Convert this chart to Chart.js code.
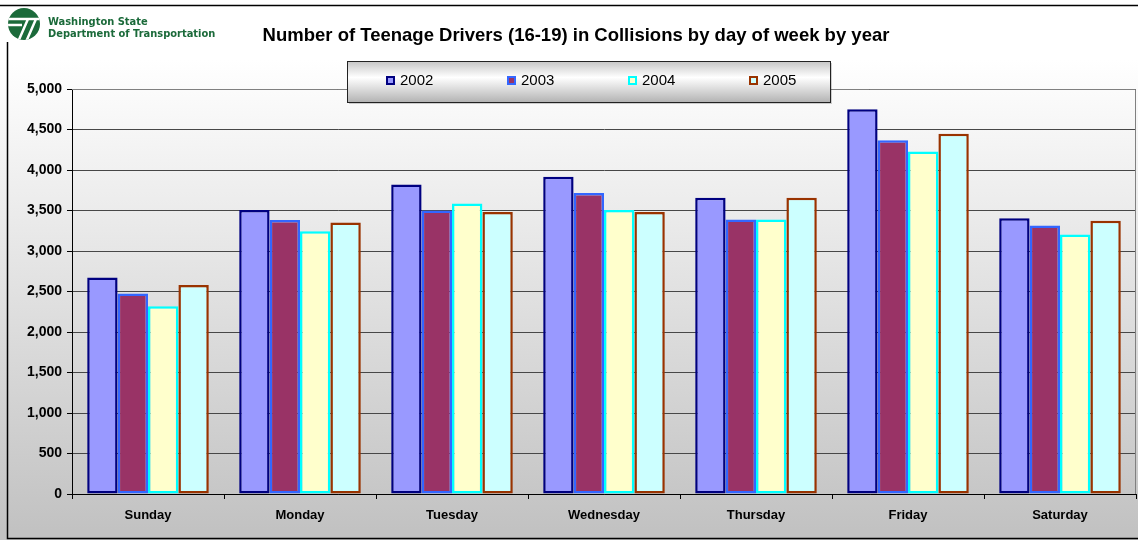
<!DOCTYPE html>
<html><head><meta charset="utf-8">
<script src="https://cdn.jsdelivr.net/npm/chart.js@4/dist/chart.umd.min.js"></script>
<style>html,body{margin:0;padding:0;background:#fff}#wrap{width:1138px;height:540px;position:relative;overflow:hidden}</style>
</head><body><div id="wrap"><canvas id="c" width="1138" height="540"></canvas></div>
<script>
const days = ['Sunday','Monday','Tuesday','Wednesday','Thursday','Friday','Saturday'];
const years = ['2002','2003','2004','2005'];
const v2002 = [2673, 3507, 3821, 3917, 3656, 4751, 3405];
const v2003 = [2475, 3384, 3500, 3717, 3389, 4368, 3315];
const v2004 = [2319, 3244, 3586, 3507, 3389, 4228, 3204];
const v2005 = [2581, 3352, 3483, 3483, 3656, 4447, 3372];
const yTicks = [0,500,1000,1500,2000,2500,3000,3500,4000,4500,5000];
const titleText = 'Number of Teenage Drivers (16-19) in Collisions by day of week by year';
const logoLines = ['Washington State','Department of Transportation'];

const fills = ['#9999ff','#993366','#ffffcc','#ccffff'];
const borders = ['#000080','#3366ff','#00ffff','#993300'];
const series = [v2002, v2003, v2004, v2005];

const deco = {
  id: 'deco',
  beforeDraw(chart) {
    const ctx = chart.ctx;
    const g = ctx.createLinearGradient(0, 60, 0, 530);
    g.addColorStop(0, '#ffffff');
    g.addColorStop(1, '#c2c2c2');
    ctx.save();
    ctx.fillStyle = g;
    ctx.fillRect(0, 0, chart.width, chart.height);
    ctx.restore();
  },
  afterDraw(chart) {
    const ctx = chart.ctx;
    const a = chart.chartArea;
    ctx.save();
    ctx.strokeStyle = '#808080';
    ctx.lineWidth = 1;
    ctx.beginPath();
    ctx.moveTo(a.left, a.top + 0.5);
    ctx.lineTo(a.right - 0.5, a.top + 0.5);
    ctx.lineTo(a.right - 0.5, a.bottom);
    ctx.stroke();
    ctx.strokeStyle = '#000';
    ctx.lineWidth = 1.5;
    ctx.beginPath();
    ctx.moveTo(0, 5.5); ctx.lineTo(chart.width, 5.5);
    ctx.moveTo(7.5, 42); ctx.lineTo(7.5, 538.5);
    ctx.lineTo(chart.width, 538.5);
    ctx.stroke();
    ctx.fillStyle = '#ffffff';
    ctx.fillRect(0, 7, 218, 34);
    ctx.save();
    ctx.beginPath();
    ctx.arc(24, 24, 16, 0, Math.PI * 2);
    ctx.fillStyle = '#1b6a3a';
    ctx.fill();
    ctx.clip();
    ctx.strokeStyle = '#ffffff';
    ctx.lineWidth = 2.5;
    ctx.beginPath();
    ctx.moveTo(6, 19); ctx.lineTo(42, 19);
    ctx.moveTo(6, 25); ctx.lineTo(22, 25);
    ctx.moveTo(28, 19); ctx.lineTo(18, 42);
    ctx.moveTo(36, 19); ctx.lineTo(26, 42);
    ctx.stroke();
    ctx.restore();
    ctx.fillStyle = '#1b6a3a';
    ctx.font = 'bold 11px "DejaVu Sans Condensed", "DejaVu Sans"';
    ctx.textBaseline = 'alphabetic';
    ctx.textAlign = 'left';
    ctx.fillText(logoLines[0], 48, 25);
    ctx.fillText(logoLines[1], 48, 37);
    ctx.fillStyle = '#000';
    ctx.font = 'bold 18.5px "Liberation Sans"';
    ctx.textAlign = 'center';
    ctx.textBaseline = 'middle';
    ctx.fillText(titleText, 576, 36);
    const lx = 347, ly = 61, lw = 483, lh = 41;
    ctx.fillStyle = 'rgba(0,0,0,0.18)';
    ctx.fillRect(lx + 2, ly + 2, lw, lh);
    const lg = ctx.createLinearGradient(0, ly, 0, ly + lh);
    lg.addColorStop(0, '#c4c4c4');
    lg.addColorStop(0.4, '#ffffff');
    lg.addColorStop(1, '#b4b4b4');
    ctx.fillStyle = lg;
    ctx.fillRect(lx, ly, lw, lh);
    ctx.strokeStyle = '#222';
    ctx.lineWidth = 1;
    ctx.strokeRect(lx + 0.5, ly + 0.5, lw, lh);
    chart.data.datasets.forEach((ds, i) => {
      const sx = 386 + i * 121, sy = 76;
      ctx.fillStyle = ds.backgroundColor;
      ctx.fillRect(sx, sy, 9, 9);
      ctx.strokeStyle = ds.borderColor;
      ctx.lineWidth = 2;
      ctx.strokeRect(sx + 1, sy + 1, 7, 7);
      ctx.fillStyle = '#000';
      ctx.font = '15px "Liberation Sans"';
      ctx.textAlign = 'left';
      ctx.textBaseline = 'middle';
      ctx.fillText(ds.label, sx + 14, 81);
    });
    ctx.restore();
  }
};

new Chart(document.getElementById('c'), {
  type: 'bar',
  data: {
    labels: days,
    datasets: years.map((y, i) => ({
      label: y,
      data: series[i],
      backgroundColor: fills[i],
      borderColor: borders[i],
      borderWidth: 2.5,
      borderSkipped: false,
      categoryPercentage: 0.8,
      barPercentage: 1.0
    }))
  },
  options: {
    responsive: false,
    devicePixelRatio: 1,
    animation: false,
    layout: { padding: { top: 89, right: 2, left: 0, bottom: 0 } },
    plugins: { legend: { display: false }, title: { display: false }, tooltip: { enabled: false } },
    scales: {
      x: {
        afterFit(s) { s.height = 46; },
        grid: { display: true, drawOnChartArea: false, offset: true, tickLength: 5, color: '#000' },
        border: { display: true, color: '#000', width: 1 },
        ticks: { color: '#000', font: { family: 'Liberation Sans', weight: 'bold', size: 13 }, padding: 9, maxRotation: 0 }
      },
      y: {
        min: 0, max: 5000,
        afterFit(s) { s.width = 72; },
        afterBuildTicks(s) { s.ticks = yTicks.map(v => ({ value: v })); },
        grid: { color: '#474747', lineWidth: 1, tickLength: 5, tickColor: '#000' },
        border: { display: true, color: '#000', width: 1 },
        ticks: { color: '#000', font: { family: 'Liberation Sans', weight: 'bold', size: 14 }, padding: 5,
          callback: v => v.toLocaleString('en-US') }
      }
    }
  },
  plugins: [deco]
});
</script></body></html>
